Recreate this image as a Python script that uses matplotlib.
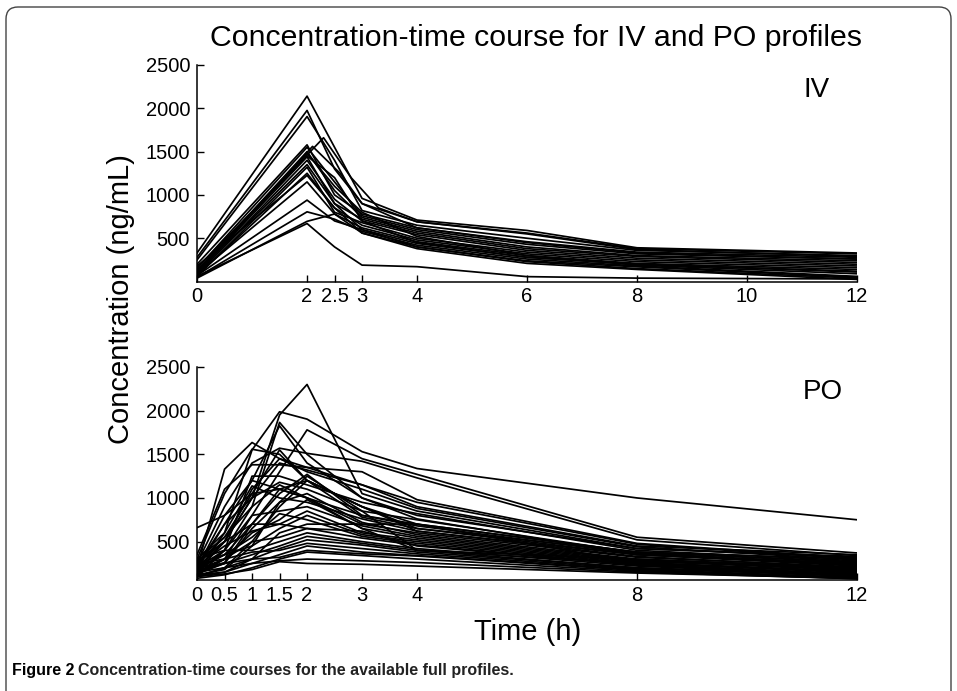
import matplotlib
matplotlib.use('Agg')
import matplotlib.pyplot as plt
from matplotlib.patches import FancyBboxPatch
from matplotlib.transforms import IdentityTransform

# IV profiles, common sampling times (h) and concentrations (ng/mL)
iv_times = [0, 2, 2.5, 3, 4, 6, 8, 12]
iv_conc = [
    [330, 2140, 1550, 960, 710, 590, 390, 330],
    [280, 1975, 1300, 900, 690, 560, 380, 320],
    [250, 1905, 1400, 820, 650, 500, 360, 300],
    [200, 1578, 1000, 780, 620, 460, 340, 280],
    [150, 1550, 1150, 760, 600, 430, 320, 260],
    [120, 1500, 1050, 740, 580, 400, 300, 240],
    [100, 1440, 900, 720, 560, 380, 290, 220],
    [80, 1400, 950, 700, 540, 360, 270, 200],
    [60, 1320, 800, 680, 500, 340, 250, 180],
    [180, 1225, 850, 650, 480, 320, 230, 160],
    [90, 1150, 780, 620, 460, 300, 210, 140],
    [70, 940, 700, 600, 440, 280, 200, 120],
    [50, 805, 720, 580, 420, 260, 180, 60],
    [40, 695, 780, 560, 400, 240, 170, 50],
    [60, 670, 400, 190, 172, 57, 40, 30],
    [110, 1480, 1100, 800, 520, 300, 190, 90],
    [90, 1350, 900, 600, 400, 230, 150, 40],
    [70, 1250, 850, 560, 380, 210, 140, 25],
    [160, 1450, 1200, 700, 450, 280, 200, 110],
]
# a couple of IV profiles sampled at shifted times
iv_extra_times = [
    [0, 2.3, 2.8, 3.3, 4, 6, 8, 12],
    [0, 2.1, 2.6, 3, 4, 6, 8, 12],
]
iv_extra_conc = [
    [130, 1660, 1200, 850, 690, 550, 370, 290],
    [100, 1560, 1250, 900, 620, 450, 330, 260],
]

# PO profiles
po_times = [0, 0.5, 1, 1.5, 2, 3, 4, 8, 12]
po_conc = [
    [250, 500, 1000, 1950, 2300, 1050, 850, 420, 330],
    [200, 1330, 1635, 1450, 1350, 1150, 900, 450, 350],
    [150, 600, 1550, 1987, 1903, 1530, 1337, 1000, 750],
    [300, 1050, 1558, 1500, 1200, 900, 650, 380, 300],
    [100, 400, 900, 1865, 1500, 1000, 760, 350, 250],
    [180, 700, 1200, 1826, 1400, 1000, 800, 420, 320],
    [120, 300, 800, 1300, 1780, 1450, 1270, 550, 370],
    [250, 900, 1400, 1570, 1511, 1420, 1230, 520, 340],
    [350, 1100, 1380, 1380, 1350, 1300, 980, 480, 310],
    [200, 500, 1100, 1450, 1300, 1100, 880, 440, 290],
    [150, 400, 1250, 1250, 1150, 950, 820, 400, 280],
    [660, 800, 1050, 1100, 1200, 900, 700, 380, 260],
    [220, 700, 1000, 1180, 1100, 850, 750, 370, 240],
    [180, 350, 700, 1050, 1270, 800, 680, 360, 230],
    [100, 200, 500, 900, 1200, 780, 650, 350, 220],
    [300, 600, 1138, 1000, 950, 760, 620, 330, 200],
    [250, 550, 900, 1150, 1000, 700, 600, 320, 210],
    [130, 250, 650, 950, 1050, 720, 580, 300, 190],
    [200, 400, 800, 850, 900, 680, 560, 290, 180],
    [150, 300, 600, 750, 980, 650, 540, 280, 170],
    [280, 500, 700, 700, 850, 600, 520, 270, 200],
    [120, 180, 450, 650, 800, 580, 500, 260, 160],
    [200, 350, 550, 820, 750, 560, 480, 250, 150],
    [100, 150, 300, 600, 700, 700, 700, 260, 140],
    [220, 450, 620, 700, 650, 540, 460, 240, 130],
    [180, 300, 500, 550, 650, 620, 450, 230, 120],
    [300, 400, 400, 500, 600, 500, 420, 220, 110],
    [150, 250, 350, 450, 560, 480, 400, 200, 100],
    [100, 200, 300, 420, 520, 460, 380, 200, 120],
    [250, 300, 380, 400, 480, 420, 360, 190, 110],
    [120, 150, 250, 350, 450, 380, 340, 180, 90],
    [200, 250, 300, 320, 400, 360, 335, 170, 80],
    [80, 120, 200, 300, 380, 340, 300, 160, 75],
    [150, 200, 250, 280, 300, 280, 260, 150, 75],
    [100, 130, 180, 270, 250, 240, 220, 140, 80],
    [300, 550, 1050, 1550, 1200, 900, 620, 350, 250],
    [200, 800, 1200, 1100, 1000, 650, 400, 300, 200],
    [150, 500, 1000, 1400, 1320, 1150, 950, 470, 300],
    [250, 350, 450, 950, 1250, 850, 400, 250, 160],
    [170, 260, 700, 1100, 1000, 800, 700, 380, 270],
]

iv_ticks = [0, 2, 2.5, 3, 4, 6, 8, 10, 12]
po_ticks = [0, 0.5, 1, 1.5, 2, 3, 4, 8, 12]
y_ticks = [500, 1000, 1500, 2000, 2500]

plt.rcParams['font.family'] = ['Liberation Sans', 'DejaVu Sans']

fig = plt.figure(figsize=(9.57, 6.91), dpi=100)

# rounded frame around the figure (pixel coords, open at the bottom)
box = FancyBboxPatch((6, -30), 945, 714, boxstyle='round,pad=0,rounding_size=12',
                     transform=IdentityTransform(), fill=False, ec='#444444', lw=1.0)
fig.add_artist(box)


def style(ax, ticks, ylo):
    ax.spines['top'].set_visible(False)
    ax.spines['right'].set_visible(False)
    for s in ('left', 'bottom'):
        ax.spines[s].set_linewidth(1.1)
    ax.set_xlim(0, 12)
    ax.set_ylim(ylo, 2500)
    ax.set_xticks(ticks)
    ax.set_xticklabels([('%g' % t) for t in ticks])
    ax.set_yticks(y_ticks)
    ax.tick_params(direction='in', length=5, width=1.0, labelsize=14.5)
    ax.tick_params(axis='y', pad=5)
    ax.tick_params(axis='x', pad=4)


ax1 = fig.add_axes([0.2059, 0.5925, 0.6897, 0.3135])
for c in iv_conc:
    ax1.plot(iv_times, c, color='black', lw=1.25)
for t, c in zip(iv_extra_times, iv_extra_conc):
    ax1.plot(t, c, color='black', lw=1.25)
style(ax1, iv_ticks, 0)
ax1.text(0.938, 0.885, 'IV', transform=ax1.transAxes, fontsize=20,
         ha='center', va='center')

ax2 = fig.add_axes([0.2059, 0.1606, 0.6897, 0.3083])
for c in po_conc:
    ax2.plot(po_times, c, color='black', lw=1.25)
style(ax2, po_ticks, 60)
ax2.text(0.948, 0.883, 'PO', transform=ax2.transAxes, fontsize=20,
         ha='center', va='center')

fig.text(0.56, 0.945, 'Concentration-time course for IV and PO profiles',
         fontsize=21.8, ha='center', va='center')
fig.text(0.126, 0.567, 'Concentration (ng/mL)', fontsize=21, rotation=90,
         ha='center', va='center')
fig.text(0.551, 0.085, 'Time (h)', fontsize=21, ha='center', va='center')

# caption
t1 = fig.text(12 / 957, 1 - 670 / 691, 'Figure 2', fontsize=11.5, fontweight='bold',
              ha='left', va='center')
fig.canvas.draw()
bb = t1.get_window_extent()
fig.text((bb.x1 + 4) / 957, 1 - 670 / 691,
         'Concentration-time courses for the available full profiles.',
         fontsize=11.5, fontweight='bold', color='#222222',
         ha='left', va='center')

fig.savefig('out.png', dpi=100)
